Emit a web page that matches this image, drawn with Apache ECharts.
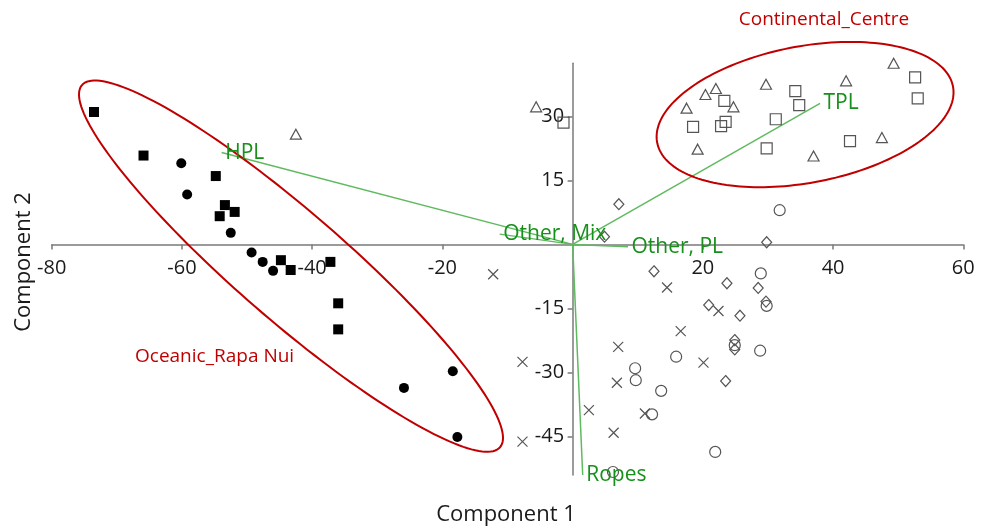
<!DOCTYPE html>
<html>
<head>
<meta charset="utf-8">
<script src="https://cdn.jsdelivr.net/npm/echarts@6/dist/echarts.min.js"></script>
<style>
html,body{margin:0;padding:0;background:#fff;}
#chart{width:986px;height:529px;}
</style>
</head>
<body>
<div id="chart"></div>
<script>
// ---- tick labels ----
const xTicks = [-80, -60, -40, -20, 20, 40, 60];
const yTicks = [-45, -30, -15, 15, 30];

// ---- scores (Component 1, Component 2) ----
const filledSquares = [
  [-73.5, 31.0], [-65.9, 20.8], [-54.8, 16.0], [-53.4, 9.2], [-51.9, 7.6], [-54.2, 6.6],
  [-44.8, -3.7], [-43.3, -6.0], [-37.2, -4.1], [-36.0, -13.8], [-36.0, -19.9]
];
const filledCircles = [
  [-60.1, 19.0], [-59.2, 11.7], [-52.5, 2.7], [-49.3, -1.9], [-47.6, -4.1], [-46.0, -6.2],
  [-25.9, -33.6], [-18.4, -29.7], [-17.7, -45.1]
];
const openTriangles = [
  [-42.5, 25.8], [-5.6, 32.2], [49.3, 42.4], [42.0, 38.3], [29.7, 37.5], [22.0, 36.5],
  [20.4, 35.1], [24.7, 32.2], [17.5, 31.9], [19.2, 22.3], [37.0, 20.7], [47.5, 25.0]
];
const openSquares = [
  [-1.4, 28.5], [52.6, 39.1], [53.0, 34.2], [34.2, 35.9], [34.8, 32.6], [23.3, 33.6],
  [23.5, 28.7], [22.8, 27.7], [18.5, 27.5], [31.2, 29.3], [29.8, 22.5], [42.6, 24.2]
];
const openCircles = [
  [31.8, 8.0], [28.9, -6.8], [29.8, -14.4], [15.9, -26.3], [28.8, -24.9], [24.9, -23.6],
  [9.6, -29.0], [9.7, -31.8], [13.6, -34.3], [12.2, -39.8], [21.9, -48.6], [6.2, -53.3]
];
const openDiamonds = [
  [7.1, 9.4], [4.9, 1.8], [29.8, 0.5], [12.5, -6.3], [23.7, -9.1], [28.5, -10.2],
  [29.7, -13.4], [20.9, -14.2], [25.7, -16.7], [24.9, -22.4], [24.9, -24.6], [23.5, -32.0]
];
const crosses = [
  [-12.2, -7.0], [-7.7, -27.5], [-7.7, -46.2], [2.5, -38.8], [7.0, -24.0], [6.8, -32.4],
  [6.3, -44.1], [14.5, -10.1], [22.4, -15.6], [16.6, -20.3], [20.1, -27.7], [11.1, -39.6]
];

// ---- loadings (biplot rays) ----
const loadingNames = ['HPL', 'Other, Mix', 'TPL', 'Other, PL', 'Ropes'];
const loadingX = [-53.9, -11.2, 38.0, 8.5, 1.55];
const loadingY = [21.5, 2.4, 33.0, -0.55, -54.0];

// ---- group ellipses: centre and two conjugate half-axis vectors (data units) ----
const ellipseNames = ['Oceanic_Rapa Nui', 'Continental_Centre'];
const ellipseCX = [-43.25, 35.7];
const ellipseCY = [-5.1, 30.4];
const ellipseUX = [32.1, 22.8];
const ellipseUY = [-42.4, 5.2];
const ellipseVX = [5.44, 0];
const ellipseVY = [9.58, -16.2];

const FONT = '"Open Sans", "Noto Sans", sans-serif';
const GREY = '#555555';
const AXIS = '#7a7a7a';
const GREEN_LINE = '#5fba5f';
const GREEN_TEXT = '#16901a';
const RED = '#c00000';

const openStyle = { color: 'rgba(0,0,0,0)', borderColor: GREY, borderWidth: 1.2, opacity: 1 };

const series = [];

// ellipses
series.push({
  type: 'custom',
  clip: false,
  silent: true,
  z: 3,
  data: ellipseNames.map((n, i) => [ellipseCX[i], ellipseCY[i], ellipseUX[i], ellipseUY[i], ellipseVX[i], ellipseVY[i]]),
  encode: { x: 0, y: 1 },
  renderItem: function (params, api) {
    const cx = api.value(0), cy = api.value(1);
    const ux = api.value(2), uy = api.value(3), vx = api.value(4), vy = api.value(5);
    const pts = [];
    const N = 180;
    for (let k = 0; k < N; k++) {
      const t = 2 * Math.PI * k / N;
      pts.push(api.coord([cx + ux * Math.cos(t) + vx * Math.sin(t), cy + uy * Math.cos(t) + vy * Math.sin(t)]));
    }
    return { type: 'polygon', shape: { points: pts }, style: { fill: 'none', stroke: RED, lineWidth: 2 } };
  }
});

// loading rays
loadingNames.forEach((n, i) => {
  series.push({
    type: 'line',
    clip: false,
    silent: true,
    z: 2,
    symbol: 'none',
    lineStyle: { color: GREEN_LINE, width: 1.5 },
    data: [[0, 0], [loadingX[i], loadingY[i]]]
  });
});

const labelDot = { color: 'rgba(0,0,0,0)', opacity: 1 };

// loading labels
series.push({
  type: 'scatter', clip: false, silent: true, z: 6,
  symbol: 'circle', symbolSize: 1, itemStyle: labelDot,
  label: {
    show: true, position: 'right', distance: 3,
    formatter: p => loadingNames[p.dataIndex],
    color: GREEN_TEXT, fontSize: 21, fontFamily: FONT
  },
  data: loadingNames.map((n, i) => [loadingX[i], loadingY[i]])
});

// axis tick labels placed at the zero-crossing axes
series.push({
  type: 'scatter', clip: false, silent: true, z: 1,
  symbol: 'circle', symbolSize: 1, itemStyle: labelDot,
  label: { show: true, position: 'bottom', distance: 13, formatter: p => String(xTicks[p.dataIndex]),
    color: '#1a1a1a', fontSize: 20, fontFamily: FONT },
  data: xTicks.map(v => [v, 0])
});
series.push({
  type: 'scatter', clip: false, silent: true, z: 1,
  symbol: 'circle', symbolSize: 1, itemStyle: labelDot,
  label: { show: true, position: 'left', distance: 8, formatter: p => String(yTicks[p.dataIndex]),
    color: '#1a1a1a', fontSize: 20, fontFamily: FONT },
  data: yTicks.map(v => [0, v])
});

// markers
series.push({ type: 'scatter', clip: false, z: 4, symbol: 'rect', symbolSize: 10, itemStyle: { color: '#000', opacity: 1 }, data: filledSquares });
series.push({ type: 'scatter', clip: false, z: 4, symbol: 'circle', symbolSize: 10, itemStyle: { color: '#000', opacity: 1 }, data: filledCircles });
series.push({ type: 'scatter', clip: false, z: 4, symbol: 'triangle', symbolSize: [11, 10], itemStyle: openStyle, data: openTriangles });
series.push({ type: 'scatter', clip: false, z: 4, symbol: 'rect', symbolSize: 11, itemStyle: openStyle, data: openSquares });
series.push({ type: 'scatter', clip: false, z: 4, symbol: 'circle', symbolSize: 11, itemStyle: openStyle, data: openCircles });
series.push({ type: 'scatter', clip: false, z: 4, symbol: 'diamond', symbolSize: [10, 11], itemStyle: openStyle, data: openDiamonds });
series.push({ type: 'scatter', clip: false, z: 4, symbol: 'path://M0,0L10,10M0,10L10,0', symbolSize: 10,
  itemStyle: { color: 'rgba(0,0,0,0)', borderColor: GREY, borderWidth: 1.2, opacity: 1 }, data: crosses });

const chart = echarts.init(document.getElementById('chart'), null, { renderer: 'canvas' });
chart.setOption({
  animation: false,
  backgroundColor: '#fff',
  grid: { left: 51.7, right: 22.7, top: 63.3, bottom: 54, containLabel: false },
  xAxis: {
    type: 'value', min: -80, max: 60,
    axisLine: { show: true, onZero: true, lineStyle: { color: AXIS, width: 1.5 } },
    axisTick: { show: true, inside: false, length: 5, customValues: xTicks, lineStyle: { color: AXIS, width: 1.5 } },
    axisLabel: { show: false },
    splitLine: { show: false }
  },
  yAxis: {
    type: 'value', min: -54, max: 42.4,
    axisLine: { show: true, onZero: true, lineStyle: { color: AXIS, width: 1.5 } },
    axisTick: { show: true, inside: false, length: 5, customValues: yTicks, lineStyle: { color: AXIS, width: 1.5 } },
    axisLabel: { show: false },
    splitLine: { show: false }
  },
  graphic: [
    { type: 'text', x: 506, y: 515, style: { text: 'Component 1', align: 'center', verticalAlign: 'middle', fill: '#1a1a1a', font: '22px ' + FONT } },
    { type: 'text', x: 24, y: 262, rotation: Math.PI / 2, style: { text: 'Component 2', align: 'center', verticalAlign: 'middle', fill: '#1a1a1a', font: '22px ' + FONT } },
    { type: 'text', x: 824, y: 20, style: { text: ellipseNames[1], align: 'center', verticalAlign: 'middle', fill: RED, font: '19px ' + FONT } },
    { type: 'text', x: 135, y: 357, style: { text: ellipseNames[0], align: 'left', verticalAlign: 'middle', fill: RED, font: '19px ' + FONT } }
  ],
  series: series
});
</script>
</body>
</html>
